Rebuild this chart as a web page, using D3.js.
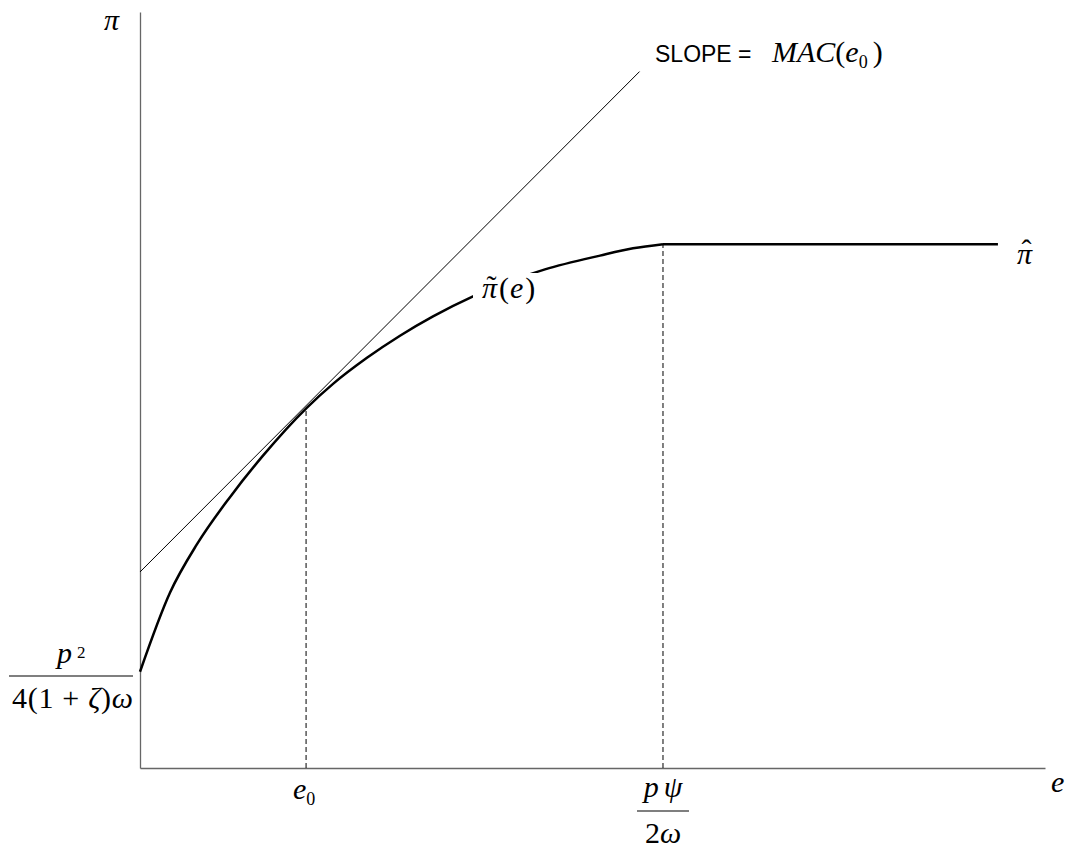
<!DOCTYPE html>
<html>
<head>
<meta charset="utf-8">
<script src="https://cdn.jsdelivr.net/npm/d3@7"></script>
<style>
  body { margin: 0; background: #fff; }
  .math { font-family: "Liberation Serif", "Times New Roman", serif; font-size: 30px; }
  .it { font-style: italic; }
  .sans { font-family: "Liberation Sans", Arial, sans-serif; font-size: 23px; }
</style>
</head>
<body>
<svg id="chart"></svg>
<script>
// set width and height of graphic
var width = 1070,
    height = 851;

// profit curve (e on x, pi on y)
var curveE  = [0, 3.31, 6.30, 9.94, 13.59, 18.45, 21.33, 25.08, 28.73, 32.38, 36.80, 44.75, 50.83, 54.48, 57.79];
var curvePi = [12.6, 22.95, 29.31, 35.47, 40.9, 47.2, 50.3, 53.71, 56.6, 59.13, 61.75, 65.29, 67.1, 68.05, 68.6];

// flat part after the peak (pi hat)
var flatE  = [57.79, 94.8];
var flatPi = [68.6, 68.6];

// tangent line at e0 (slope = MAC(e0))
var tangentE  = [0, 55.2];
var tangentPi = [25.67, 91.2];

// tangency point and peak point
var e0 = 18.35, pi0 = 47.1;
var ePeak = 57.79, piPeak = 68.6;

var x = d3.scaleLinear().domain([0, 100]).range([140, 1045]);
var y = d3.scaleLinear().domain([0, 99]).range([768, 12]);

var svg = d3.select("#chart")
    .attr("width", width)
    .attr("height", height);

// axes, no ticks
svg.append("g")
    .attr("transform", "translate(0," + y(0) + ")")
    .call(d3.axisBottom(x).tickValues([]).tickSizeOuter(0))
    .select(".domain").attr("stroke", "#666").attr("stroke-width", 1.3);

svg.append("g")
    .attr("transform", "translate(" + x(0) + ",0)")
    .call(d3.axisLeft(y).tickValues([]).tickSizeOuter(0))
    .select(".domain").attr("stroke", "#666").attr("stroke-width", 1.3);

var line = d3.line()
    .x(function(d) { return x(d[0]); })
    .y(function(d) { return y(d[1]); });

// tangent line
svg.append("path")
    .datum(d3.zip(tangentE, tangentPi))
    .attr("fill", "none")
    .attr("stroke", "#000")
    .attr("stroke-width", 1)
    .attr("d", line);

// dashed drop lines
svg.selectAll(".drop")
    .data([[e0, pi0], [ePeak, piPeak]])
    .enter().append("line")
    .attr("class", "drop")
    .attr("x1", function(d) { return x(d[0]); })
    .attr("x2", function(d) { return x(d[0]); })
    .attr("y1", y(0))
    .attr("y2", function(d) { return y(d[1]); })
    .attr("stroke", "#000")
    .attr("stroke-width", 1)
    .attr("stroke-dasharray", "5,3");

// flat part
svg.append("path")
    .datum(d3.zip(flatE, flatPi))
    .attr("fill", "none")
    .attr("stroke", "#000")
    .attr("stroke-width", 2.5)
    .attr("d", line);

// profit curve
svg.append("path")
    .datum(d3.zip(curveE, curvePi))
    .attr("fill", "none")
    .attr("stroke", "#000")
    .attr("stroke-width", 2.5)
    .attr("d", d3.line()
        .x(function(d) { return x(d[0]); })
        .y(function(d) { return y(d[1]); })
        .curve(d3.curveMonotoneX));

// accent mark inside the same text, centred over its first char
function accent(textSel, ch, lift) {
  var n = textSel.node();
  var a = n.getStartPositionOfChar(0).x, b = n.getEndPositionOfChar(0).x;
  var t = textSel.append("tspan").attr("font-style", "normal").text(ch);
  var w = t.node().getComputedTextLength();
  t.attr("x", (a + b) / 2 + 2 - w / 2).attr("y", +textSel.attr("y") - (lift || 0));
}

// curve label with white box behind it
var labBox = svg.append("rect").attr("fill", "#fff");
var labText = svg.append("text").attr("class", "math").attr("x", 482).attr("y", 298);
labText.append("tspan").attr("class", "it").text("\u03C0");
labText.append("tspan").attr("dx", 2).text("(");
labText.append("tspan").attr("class", "it").attr("dx", 1).text("e");
labText.append("tspan").attr("dx", 2).text(")");
var bb = labText.node().getBBox();
labBox.attr("x", bb.x - 9).attr("y", bb.y + 2).attr("width", bb.width + 19).attr("height", bb.height - 6);
accent(labText, "\u02DC", 2);

// pi axis label
svg.append("text").attr("class", "math it")
    .attr("x", 104).attr("y", 30).text("\u03C0");

// e axis label
svg.append("text").attr("class", "math it")
    .attr("x", 1051).attr("y", 792).text("e");

// pi hat
var piHat = svg.append("text").attr("class", "math it")
    .attr("x", 1017).attr("y", 264).text("\u03C0");
accent(piHat, "\u02C6", 4);

// slope label
svg.append("text").attr("class", "sans")
    .attr("x", 655).attr("y", 62).text("SLOPE =");
var mac = svg.append("text").attr("class", "math").attr("x", 772).attr("y", 62);
mac.append("tspan").attr("class", "it").text("MAC");
mac.append("tspan").text("(");
mac.append("tspan").attr("class", "it").text("e");
mac.append("tspan").attr("font-size", 18).attr("dy", 6).text("0");
mac.append("tspan").attr("dy", -6).attr("dx", 5).text(")");

// e0 tick label
var e0t = svg.append("text").attr("class", "math")
    .attr("x", 293).attr("y", 799);
e0t.append("tspan").attr("class", "it").text("e");
e0t.append("tspan").attr("font-size", 18).attr("dy", 6).text("0");

// fraction p psi / 2 omega
var fx = x(ePeak);
var num1 = svg.append("text").attr("class", "math it").attr("x", fx).attr("y", 797)
    .attr("text-anchor", "middle");
num1.append("tspan").text("p");
num1.append("tspan").attr("dx", 5).text("\u03C8");
svg.append("line").attr("x1", fx - 26).attr("x2", fx + 26)
    .attr("y1", 811).attr("y2", 811).attr("stroke", "#000").attr("stroke-width", 1.2);
var den = svg.append("text").attr("class", "math").attr("x", fx).attr("y", 843)
    .attr("text-anchor", "middle");
den.append("tspan").text("2");
den.append("tspan").attr("class", "it").text("\u03C9");

// fraction p^2 / 4(1+zeta)omega
var num = svg.append("text").attr("class", "math").attr("x", 57).attr("y", 663);
num.append("tspan").attr("class", "it").text("p");
num.append("tspan").attr("font-size", 17).attr("dy", -5).attr("dx", 5).text("2");
svg.append("line").attr("x1", 9).attr("x2", 133)
    .attr("y1", 676).attr("y2", 676).attr("stroke", "#000").attr("stroke-width", 1.2);
var den2 = svg.append("text").attr("class", "math").attr("x", 12).attr("y", 708)
    .attr("textLength", 121).attr("lengthAdjust", "spacing");
den2.append("tspan").text("4(1 + ");
den2.append("tspan").attr("class", "it").text("\u03B6");
den2.append("tspan").text(")");
den2.append("tspan").attr("class", "it").text("\u03C9");
</script>
</body>
</html>
